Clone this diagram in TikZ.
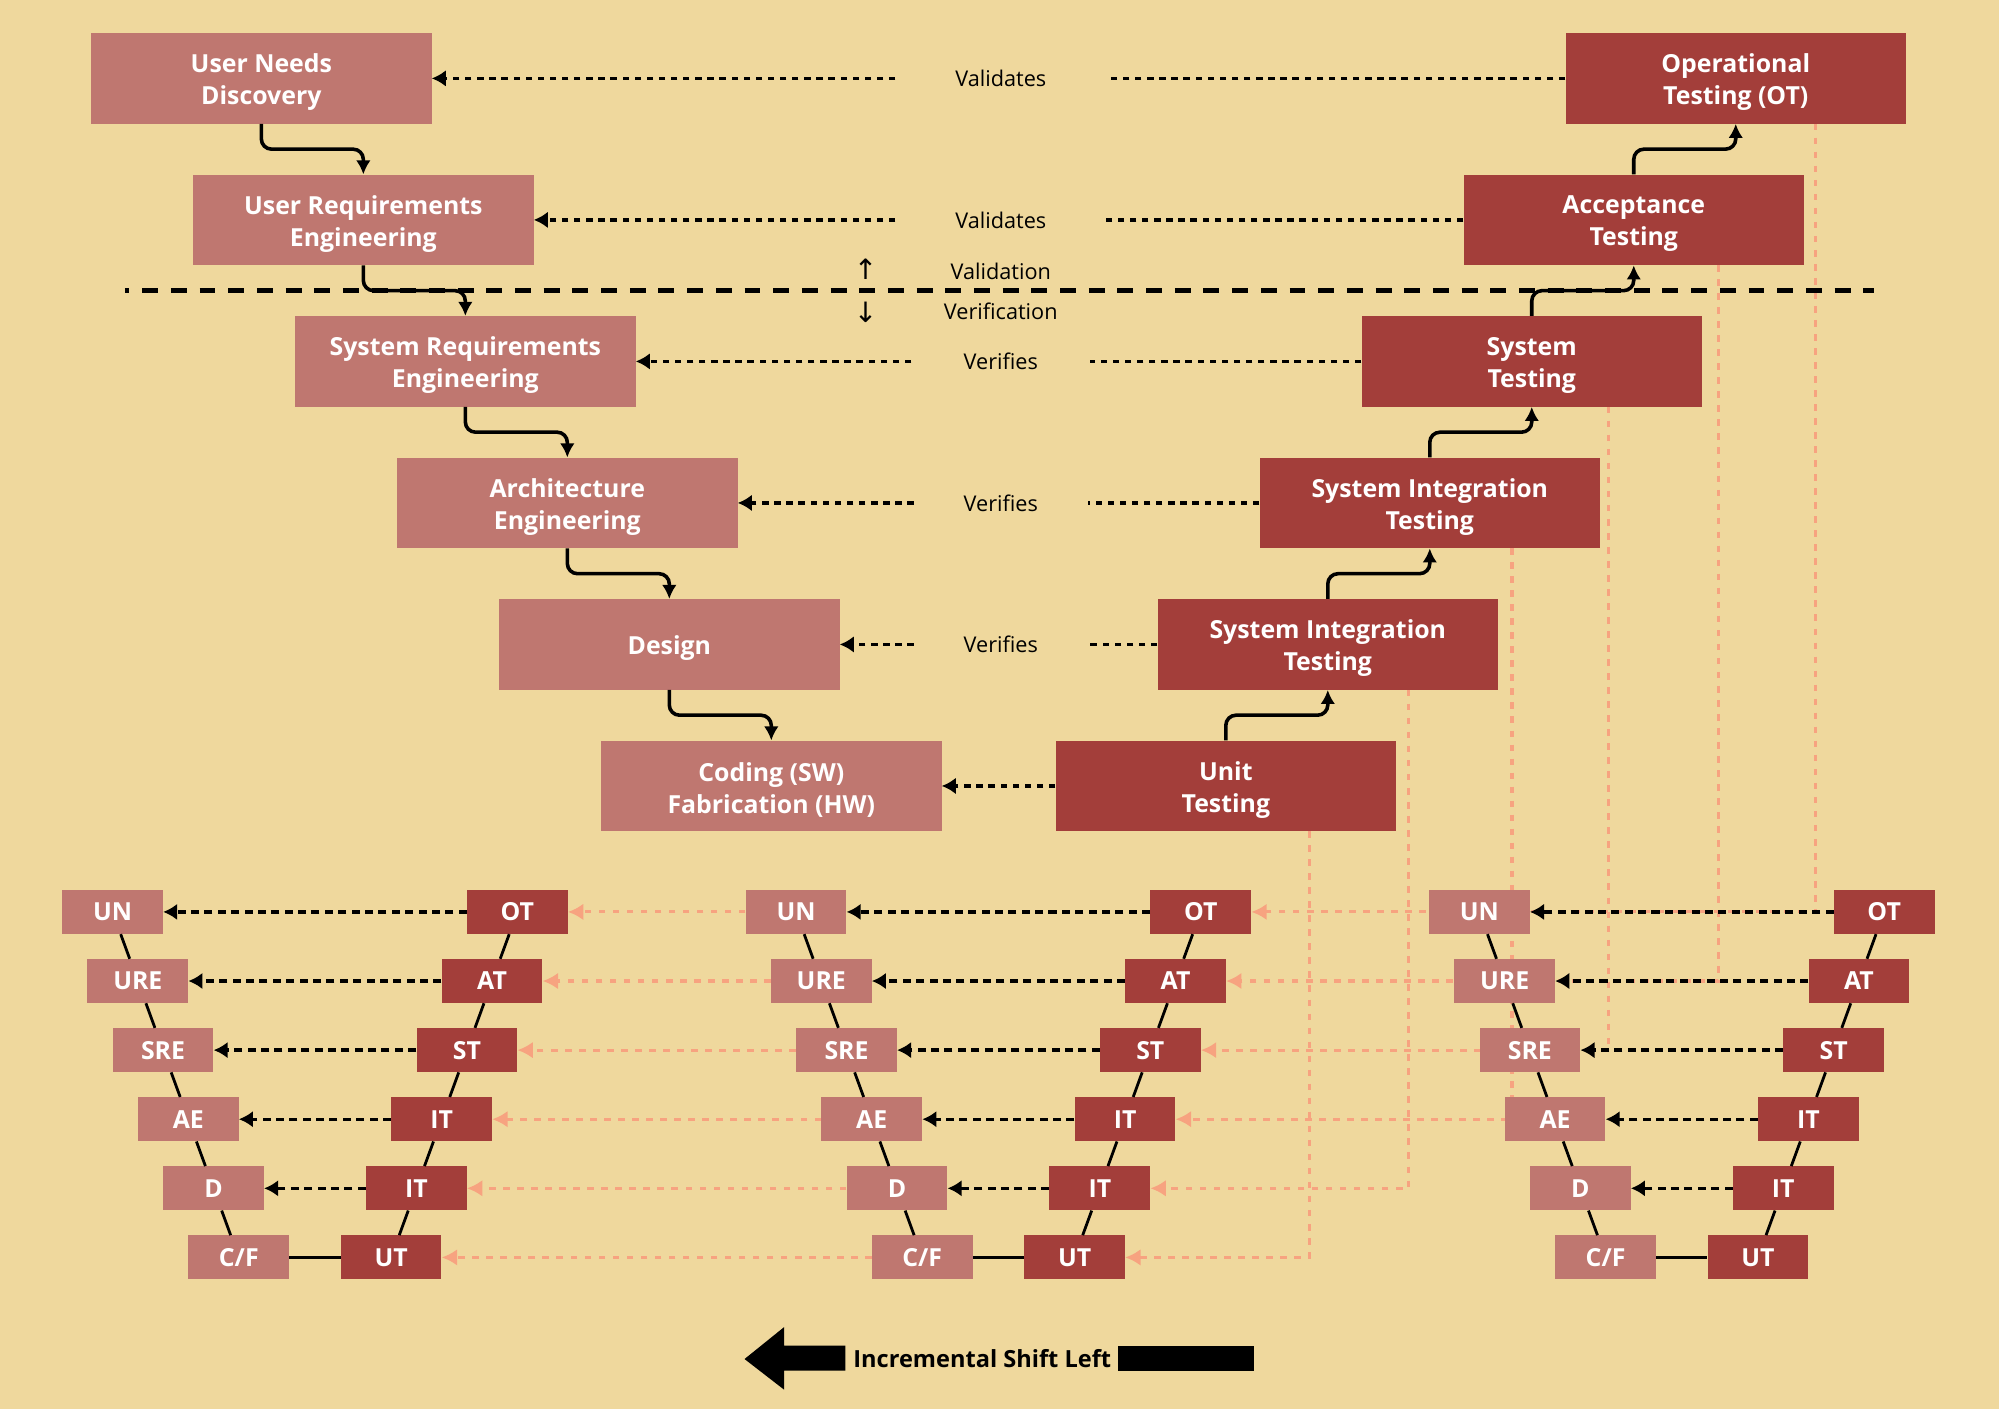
\documentclass[tikz,border=0pt]{standalone}
\usepackage{fontspec}
\setmainfont{Open Sans}
\newfontfamily\symfont{DejaVu Sans}
\usetikzlibrary{arrows.meta,calc}
\pgfdeclarelayer{back}
\pgfdeclarelayer{pinks}
\pgfsetlayers{back,pinks,main}
\definecolor{bgc}{RGB}{239,216,157}
\definecolor{pinkbox}{RGB}{191,119,112}
\definecolor{redbox}{RGB}{163,62,58}
\definecolor{salmon}{RGB}{247,163,128}
\tikzset{
  bigL/.style={fill=pinkbox, minimum width=267pt, minimum height=71pt, inner sep=0pt},
  bigR/.style={bigL, fill=redbox},
  bigtext/.style={text=white, inner sep=0pt, align=center, font=\bfseries\fontsize{19.5}{25}\selectfont},
  smL/.style={fill=pinkbox, text=white, minimum width=79pt, minimum height=34.5pt, inner sep=0pt,
    font=\bfseries\fontsize{19.5}{20}\selectfont},
  smR/.style={smL, fill=redbox},
  lbl/.style={inner sep=0pt, font=\fontsize{17}{20}\selectfont},
  flow/.style={draw=black, line width=2.8pt, rounded corners=8pt, -{Latex[length=11pt,width=11.5pt]}},
  valline/.style={draw=black, line width=2.8pt, dash pattern=on 5pt off 4.5pt},
  btip/.style={-{Latex[length=11pt,width=13pt]}},
  minidash/.style={draw=black, line width=2.7pt, dash pattern=on 6.3pt off 4.2pt},
  solidc/.style={draw=black, line width=2.2pt},
  pinkdash/.style={draw=salmon, line width=2.4pt, dash pattern=on 5.2pt off 5.8pt},
  ptip/.style={-{Latex[length=12pt,width=13pt]}},
  arrglyph/.style={inner sep=0pt, font=\symfont\fontsize{22}{22}\selectfont},
}
\begin{document}
\begin{tikzpicture}[x=1pt,y=-1pt]
\begin{pgfonlayer}{back}
  \fill[bgc] (0,0) rectangle (1568,1105);
  \fill[white] (0,1105) rectangle (1568,1107);
\end{pgfonlayer}
\useasboundingbox (0,0) rectangle (1568,1107);

% ---------- big V ----------
\foreach \t [count=\i from 0] in {{User Needs\\Discovery},{User Requirements\\Engineering},
  {System Requirements\\Engineering},{Architecture\\Engineering},{Design},{Coding (SW)\\Fabrication (HW)}} {
  \node[bigL] (L\i) at ({205+80*\i},{61.5+111*\i}) {};
  \node[bigtext] (L\i t) at ([yshift=-3pt]L\i.center) {\t};
}
\foreach \t [count=\i from 0] in {{Operational\\Testing (OT)},{Acceptance\\Testing},{System\\Testing},
  {System Integration\\Testing},{System Integration\\Testing},{Unit\\Testing}} {
  \node[bigR] (R\i) at ({1361.5-80*\i},{61.5+111*\i}) {};
  \node[bigtext] (R\i t) at ([yshift=-3pt]R\i.center) {\t};
}

\foreach \i [evaluate=\i as \j using int(\i+1)] in {0,...,4} {
  \draw[flow] (L\i.south) |- ($(L\i.south)!.5!(L\j.north)$) -| (L\j.north);
  \draw[flow] (R\j.north) |- ($(R\j.north)!.5!(R\i.south)$) -| (R\i.south);
}

% labels and dotted links
\node[lbl, minimum width=165pt] (t0) at (785,61.5) {Validates};
\node[lbl, minimum width=165pt] (t1) at (785,172.5) {Validates};
\node[lbl, minimum width=140pt] (t2) at (785,283.5) {Verifies};
\node[lbl, minimum width=136pt] (t3) at (785,394.5) {Verifies};
\node[lbl, minimum width=136pt] (t4) at (785,505.5) {Verifies};
\foreach \i in {0,...,4} {
  \draw[valline] (R\i) -- (t\i);
  \draw[valline, btip] (t\i) -- (L\i);
}
\draw[valline, btip] (R5) -- (L5);

\node[lbl] (va) at (785,213) {Validation};
\node[lbl] (ve) at (785,244) {Verification};
\node[arrglyph] (au) at (679,211) {↑};
\node[arrglyph] (ad) at (679,245) {↓};
\draw[line width=4.2pt, dash pattern=on 12.5pt off 10pt, dash phase=9pt] (98,228) -- (1470,228);

% ---------- small Vs ----------
\foreach \k/\xo in {1/88.3, 2/624.4, 3/1160.4} {
  \foreach \t [count=\i from 0] in {UN,URE,SRE,AE,D,{C/F}}
    \node[smL] (V\k-l\i) at ({\xo+19.8*\i},{715.3+54.2*\i}) {\t};
  \foreach \t [count=\i from 0] in {OT,AT,ST,IT,IT,UT}
    \node[smR] (V\k-r\i) at ({\xo+317.5-19.8*\i},{715.3+54.2*\i}) {\t};
}
\foreach \k in {1,2,3} {
  \foreach \i [evaluate=\i as \j using int(\i+1)] in {0,...,4} {
    \draw[solidc] (V\k-l\i) -- (V\k-l\j);
    \draw[solidc] (V\k-r\i) -- (V\k-r\j);
    \draw[minidash, btip] (V\k-r\i) -- (V\k-l\i);
  }
  \draw[solidc] (V\k-l5) -- (V\k-r5);
}

% ---------- pink links ----------
\foreach \i/\xx in {0/1424, 1/1348, 2/1262, 3/1186, 4/1105, 5/1027}
  \coordinate (ps\i) at (\xx,{97+111*\i});
\begin{pgfonlayer}{pinks}
  \foreach \i in {0,...,5} {
    \draw[pinkdash, ptip, salmon] (V2-l\i.west) -- (V1-r\i.east);
    \draw[pinkdash, ptip, salmon] (ps\i) |- (V2-r\i.east);
  }
\end{pgfonlayer}

% ---------- shift left arrow ----------
\fill[black] (584,1066) -- (615,1041) -- (615,1055.5) -- (663,1055.5) -- (663,1075)
  -- (615,1075) -- (615,1090) -- cycle;
\node[inner sep=0pt, font=\bfseries\fontsize{18.5}{20}\selectfont] (shift) at (770.5,1066) {Incremental Shift Left};
\fill[black] (877,1055.5) rectangle (984,1075);
\end{tikzpicture}
\end{document}
